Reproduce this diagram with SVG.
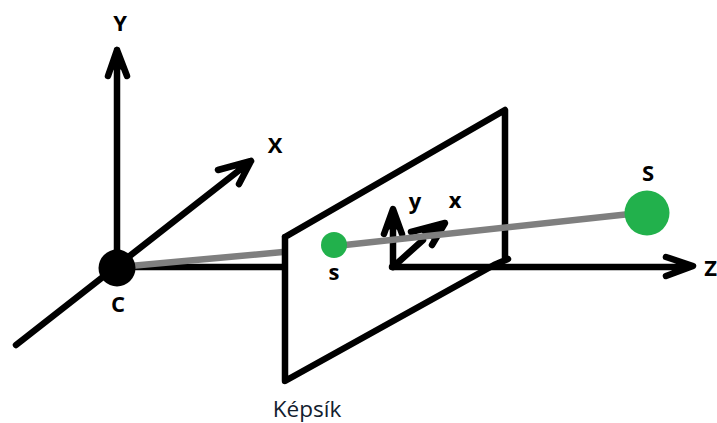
<svg xmlns="http://www.w3.org/2000/svg" width="717" height="423" viewBox="0 0 717 423">
<style>
.k{fill:none;stroke:#000;stroke-width:6.5;stroke-linecap:round;stroke-linejoin:round}
.h{fill:#000;stroke:#000;stroke-width:6.5;stroke-linecap:round;stroke-linejoin:round}
.g{fill:none;stroke:#7f7f7f;stroke-width:6.5}
.l{font-family:"Open Sans","Noto Sans",sans-serif;font-size:22px;font-weight:700;fill:#000;text-anchor:middle}
</style>
<rect width="717" height="423" fill="#fff"/>
<g id="connectors">
<path id="axis-Y" class="k" d="M117 252V50M108 76L117 50L127 76"/>
<path class="h" d="M117 50L113 68H121Z" style="stroke-width:3"/>
<path id="axis-X" class="k" d="M16 345L251 161M218 170L251 161L239 184"/>
<path id="axis-Z" class="k" d="M117 267H284M392 267H690M666 257L693 266L666 276"/>
<path id="ray-left" class="g" d="M130 266L283 252"/>
<path id="axis-y" class="k" d="M393 265V210M384 234L393 209L402 234"/>
<path class="h" d="M393 209L389 228H397Z" style="stroke-width:3"/>
<path id="axis-x" class="k" d="M393 267L423 240"/>
<path id="axis-x-head" class="k" d="M411 232L445 223L432 245"/>
<path class="h" d="M445 223L423 232L432 238Z" style="stroke-width:3"/>
</g>
<g id="node-plane"><path class="k" d="M285 237L505 110V259M285 237V381L494 265L508 259"/></g>
<g id="node-ray"><path class="g" d="M345 245L630 214"/></g>
<g id="node-C"><circle cx="117" cy="268" r="18.5" fill="#000"/><text class="l" x="118" y="312">C</text></g>
<g id="node-Y"><text class="l" x="120" y="31">Y</text></g>
<g id="node-X"><text class="l" x="275" y="153">X</text></g>
<g id="node-Z"><text class="l" x="717" y="276" style="text-anchor:end">Z</text></g>
<g id="node-s"><circle cx="334" cy="245" r="13" fill="#22b14c"/><text class="l" x="334" y="280">s</text></g>
<g id="node-y"><text class="l" x="415" y="209">y</text></g>
<g id="node-x"><text class="l" x="455" y="208">x</text></g>
<g id="node-S"><circle cx="647" cy="213" r="22.5" fill="#22b14c"/><text class="l" x="648" y="181">S</text></g>
<g id="node-Kepsik"><text class="l" x="307" y="417" style="font-weight:400;font-size:22.5px;fill:#12202e">Képsík</text></g>
</svg>
